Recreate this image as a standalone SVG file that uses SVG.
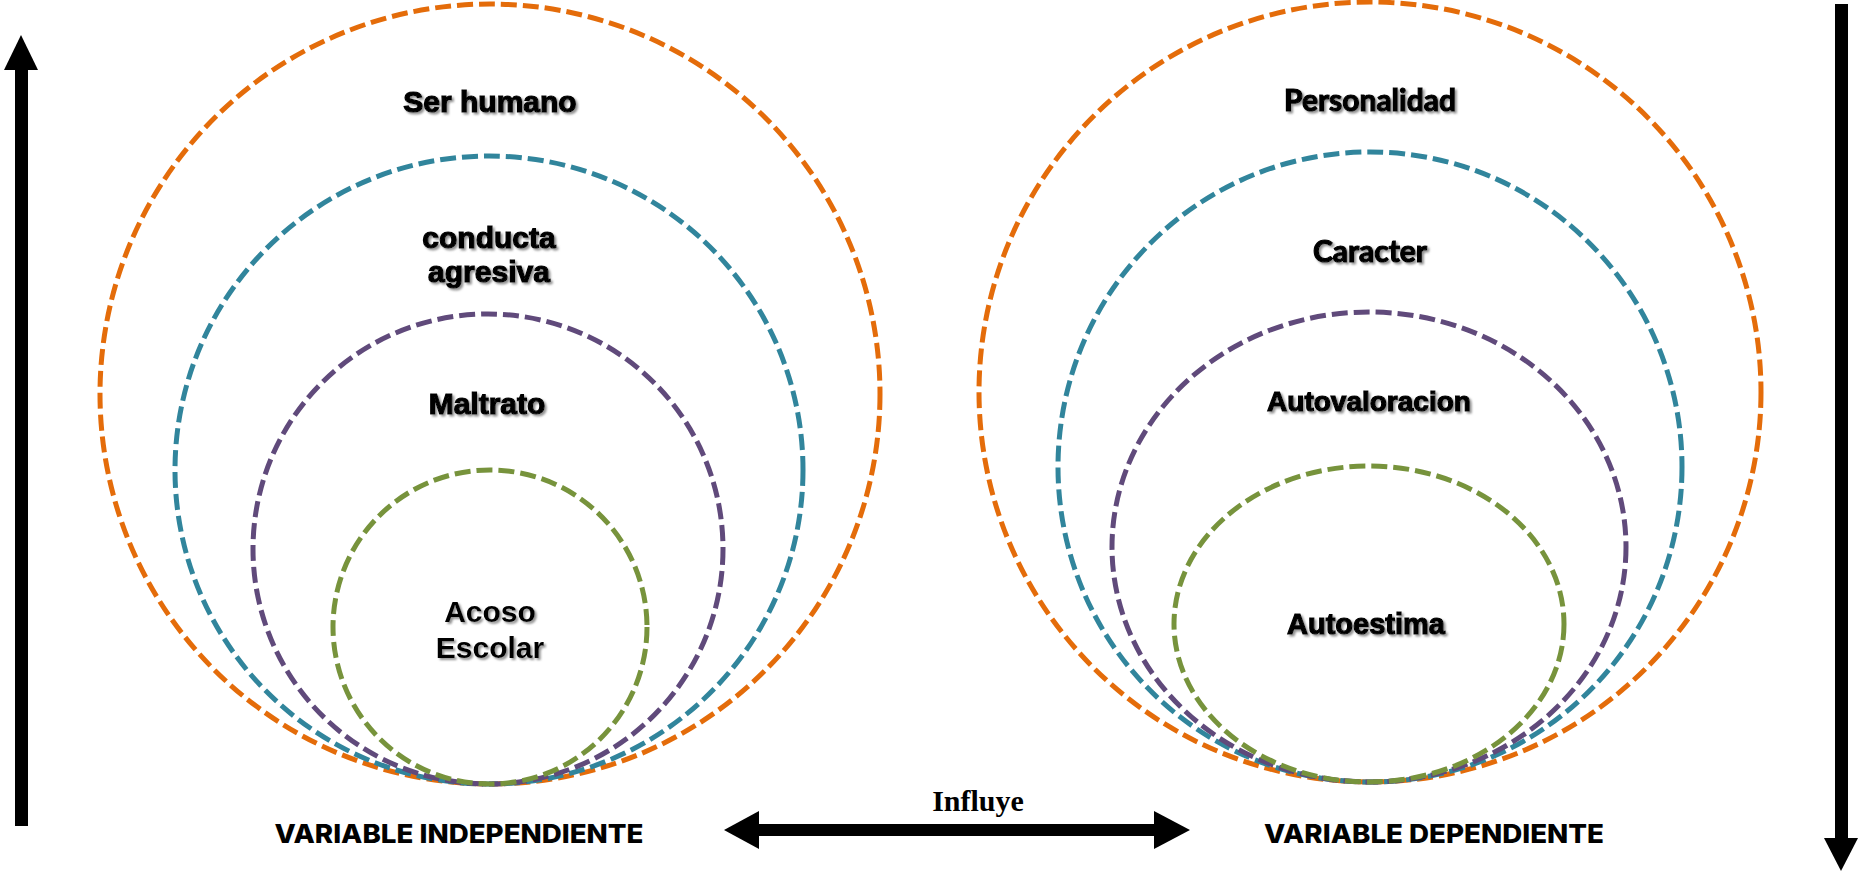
<svg xmlns="http://www.w3.org/2000/svg" width="1858" height="874" viewBox="0 0 1858 874">
<defs>
<filter id="sh" x="-10%" y="-20%" width="130%" height="160%">
<feDropShadow dx="2" dy="2" stdDeviation="1.2" flood-color="#777" flood-opacity="0.8"/>
</filter>
</defs>
<style>
.ring{fill:none;stroke-width:5;stroke-dasharray:16 6}
.o{stroke:#E46C0A}.t{stroke:#31859C}.p{stroke:#604A7B}.g{stroke:#77933C}
.lbl{font-family:"Liberation Sans",Arial,sans-serif;font-weight:bold;font-size:30px;fill:#000;stroke:#000;stroke-width:1.2;text-anchor:middle;filter:url(#sh)}
.cal{font-family:Lato,"Liberation Sans",sans-serif;font-weight:bold;font-size:30px;fill:#000;stroke:#000;stroke-width:1.2;text-anchor:middle;filter:url(#sh)}
.var{font-family:Inter,"Liberation Sans",sans-serif;font-weight:800;font-size:26px;fill:#000;text-anchor:middle}
.inf{font-family:"Liberation Serif","Times New Roman",serif;font-weight:bold;font-size:30px;fill:#000;text-anchor:middle}
</style>
<g id="left-set">
<g id="ser-humano"><circle class="ring o" cx="490" cy="394" r="390"/><text class="lbl" x="490" y="112">Ser humano</text></g>
<g id="conducta-agresiva"><circle class="ring t" cx="489" cy="470" r="314"/><text class="lbl" x="489" y="248">conducta</text><text class="lbl" x="489" y="282">agresiva</text></g>
<g id="maltrato"><circle class="ring p" cx="488" cy="549" r="235"/><text class="lbl" x="487" y="414">Maltrato</text></g>
<g id="acoso-escolar"><circle class="ring g" cx="490" cy="627" r="157"/><text class="lbl" x="490" y="622" style="stroke:none">Acoso</text><text class="lbl" x="490" y="658" style="stroke:none">Escolar</text></g>
</g>
<g id="right-set">
<g id="personalidad"><ellipse class="ring o" cx="1370" cy="392" rx="391" ry="390"/><text class="cal" x="1370" y="111">Personalidad</text></g>
<g id="caracter"><ellipse class="ring t" cx="1370" cy="467" rx="312" ry="315"/><text class="cal" x="1370" y="262">Caracter</text></g>
<g id="autovaloracion"><ellipse class="ring p" cx="1369" cy="547" rx="257" ry="235"/><text class="lbl" x="1369" y="411" style="font-size:28px">Autovaloracion</text></g>
<g id="autoestima"><ellipse class="ring g" cx="1369" cy="624" rx="195" ry="158"/><text class="lbl" x="1366" y="634" style="font-size:29px">Autoestima</text></g>
</g>
<g id="labels">
<text class="var" x="459" y="843" textLength="369" lengthAdjust="spacingAndGlyphs">VARIABLE INDEPENDIENTE</text>
<text class="var" x="1434" y="843" textLength="340" lengthAdjust="spacingAndGlyphs">VARIABLE DEPENDIENTE</text>
</g>
<g id="connectors" fill="#000">
<g id="up-arrow"><rect x="15" y="68" width="13" height="758"/><polygon points="21,35 38,70 4,70"/></g>
<g id="down-arrow"><rect x="1835" y="4" width="13" height="836"/><polygon points="1824,838 1858,838 1841,871"/></g>
<g id="influye"><rect x="756" y="824" width="400" height="12"/><polygon points="724,830 759,811 759,849"/><polygon points="1190,830 1154,811 1154,849"/><text class="inf" x="978" y="811">Influye</text></g>
</g>
</svg>
